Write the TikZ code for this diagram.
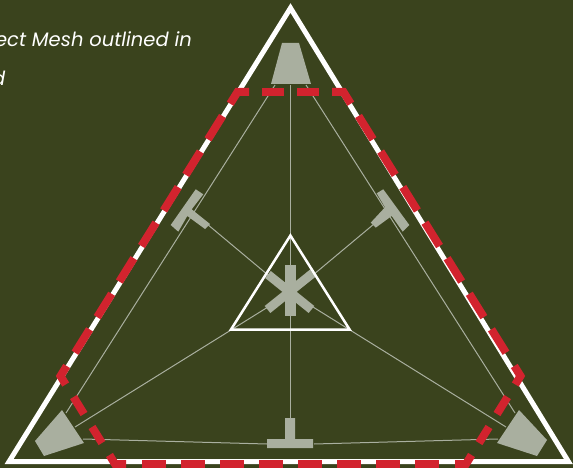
\documentclass[tikz,border=0pt]{standalone}
\usepackage{fontspec}
\setmainfont{Poppins}
\definecolor{bgc}{HTML}{3A431D}
\definecolor{grayc}{HTML}{A9AF9F}
\definecolor{redc}{HTML}{D2232E}
\tikzset{
  thinline/.style={draw=grayc,line width=1pt},
  part/.style={fill=grayc,draw=none},
  whitetri/.style={draw=white,line join=miter,miter limit=10},
  redbase/.style={draw=redc,line width=8pt,line join=miter,miter limit=10},
  sidedash/.style={redbase,dash pattern=on 27.5pt off 14.4pt},
  lowdash/.style={redbase},
  bottomdash/.style={redbase,dash pattern=on 23.5pt off 15.5pt},
  caption/.style={inner sep=0pt,text=white,font=\fontsize{19.5}{22}\selectfont\itshape}
}
\begin{document}
\begin{tikzpicture}[x=1pt,y=-1pt]
\useasboundingbox (0,0) rectangle (573,468);
\clip (0,0) rectangle (573,468);
\fill[bgc] (0,0) rectangle (573,468);
% hubs
\coordinate (topL) at (275,85);\coordinate (topR) at (306,85);
\coordinate (blU) at (66,413);\coordinate (brU) at (515,413);
\coordinate (blR) at (75,427);\coordinate (brL) at (506,427);
\coordinate (blB) at (83,439);\coordinate (brB) at (498,439);
\coordinate (tlS) at (207,224);\coordinate (trS) at (374,224);
\coordinate (cUL) at (268,275);\coordinate (cUR) at (313,275);
\coordinate (cLL) at (268,307);\coordinate (cLR) at (313,307);
\coordinate (bL) at (267,444);\coordinate (bR) at (314,444);
\coordinate (vT) at (290.5,85);\coordinate (vB) at (290.5,418);
\coordinate (dA1) at (268,274.5);\coordinate (dA2) at (311.5,309.5);
\coordinate (dB1) at (313,273);\coordinate (dB2) at (267.5,309.5);
% thin connectors
\draw[thinline] (vT) -- (vB);
\draw[thinline] (topL) -- (blU);
\draw[thinline] (topR) -- (brU);
\draw[thinline] (tlS) -- (cUL);
\draw[thinline] (trS) -- (cUR);
\draw[thinline] (blR) -- (cLL);
\draw[thinline] (brL) -- (cLR);
\draw[thinline] (blB) -- (bL);
\draw[thinline] (brB) -- (bR);
% outer triangle
\draw[whitetri,line width=5pt] (290.5,8) -- (9,461.7) -- (568.5,461.7) -- cycle;
% speakers
\fill[part] (282,43) -- (299,43) -- (311,84) -- (271,84) -- cycle;
\fill[part] (62,410) -- (84,443) -- (44,456) -- (35,441) -- cycle;
\fill[part] (519,410) -- (547,440) -- (537,456) -- (497,443) -- cycle;
% T parts
\fill[part] (195.7,189.3) -- (203.3,194.3) -- (191.7,209.3) -- (210,224) -- (205,229) -- (187.3,216) -- (178.3,231.7) -- (170.7,225) -- cycle;
\fill[part] (383.3,189.3) -- (376.7,193.3) -- (385,207.3) -- (370.7,222.7) -- (375.7,227.7) -- (391.7,216) -- (402.7,231.7) -- (409.3,225) -- cycle;
\fill[part] (285,418) -- (295,418) -- (295,439) -- (313,439) -- (313,448) -- (267,448) -- (267,439) -- (285,439) -- cycle;
% asterisk
\fill[part] (285,265) rectangle (295.5,316);
\draw[grayc,line width=9pt] (dA1) -- (dA2);
\draw[grayc,line width=9pt] (dB1) -- (dB2);
% inner triangle
\draw[whitetri,line width=2.5pt] (290.4,235.5) -- (231,329.5) -- (349.6,329.5) -- cycle;
% red mesh outline: top
\draw[redbase] (249,92) -- (237.5,92) -- (230.2,103.7);
\draw[redbase] (332,92) -- (343.5,92) -- (350.8,103.7);
\draw[redbase] (262,92) -- (284,92);
\draw[redbase] (297,92) -- (319,92);
% long sides
\draw[sidedash] (222.5,116) -- (74.2,354);
\draw[sidedash] (358.5,116) -- (506.8,354);
% side corners
\draw[redbase] (66.7,366) -- (60.5,376) -- (65.7,384.5);
\draw[redbase] (514.3,366) -- (520.5,376) -- (515.3,384.5);
% lower short sides
\draw[lowdash] (73.5,397) -- (84,414);
\draw[lowdash] (92,427) -- (102,443);
\draw[lowdash] (507.5,397) -- (497,414);
\draw[lowdash] (489,427) -- (479,443);
% bottom
\draw[redbase] (109.5,455) -- (115,464) -- (126,464);
\draw[redbase] (471.5,455) -- (466,464) -- (455,464);
\draw[bottomdash] (142,464) -- (439,464);
% captions
\node[caption,anchor=base east] (cap1) at (192,46.5) {ect Mesh outlined in};
\node[caption,anchor=base east] (cap2) at (5.5,86) {d};
\end{tikzpicture}
\end{document}
